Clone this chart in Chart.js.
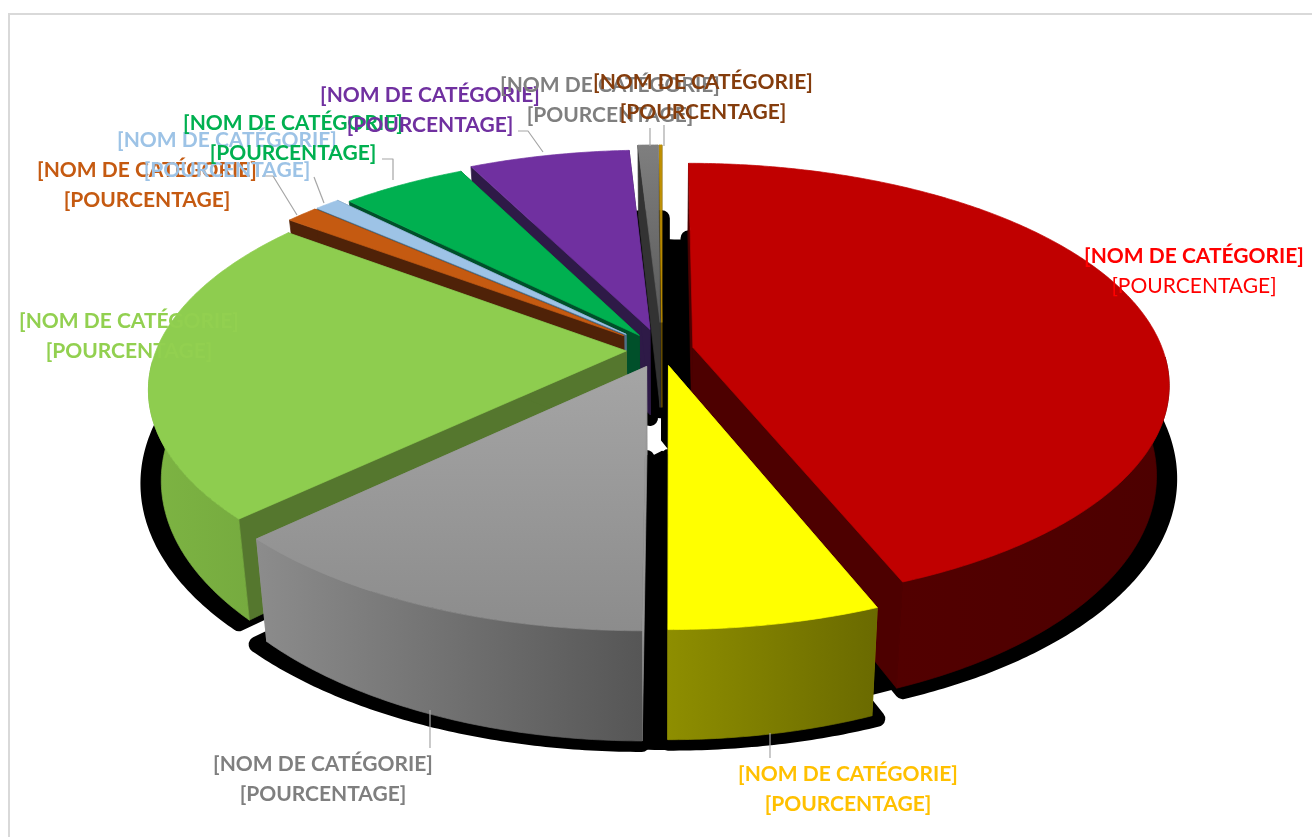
<!DOCTYPE html>
<html lang="fr"><head><meta charset="utf-8">
<style>
html,body{margin:0;padding:0;background:#fff;overflow:hidden;width:1312px;height:837px}
#frame{position:absolute;left:8px;top:13px;width:1400px;height:900px;border:2px solid #d9d9d9;box-sizing:border-box}
#c{position:absolute;left:0;top:0}
.lb{position:absolute;transform:translate(-50%,-50%);font:bold 21px Lato,sans-serif;white-space:nowrap;line-height:29.5px;text-align:center}
.lb .n{font-weight:400}
</style>
<script src="https://cdn.jsdelivr.net/npm/chart.js@4"></script>
</head><body>
<div id="frame"></div>
<canvas id="c" width="1312" height="837"></canvas>
<script>
const categories=["Rouge","Jaune","Gris","Vert clair","Orange","Bleu clair","Vert","Violet","Gris foncé","Brun"];
const shares=[43.85,6.05,12.74,22.41,1.3,1.0,5.0,6.45,0.8,0.1];
const nameLabel="[NOM DE CATÉGORIE]";
const percentLabel="[POURCENTAGE]";
const explodePx=[22,24,27,25,35,35,27.5,33,43,43];
const topColors=["#C00000","#FFFF00","#A5A5A5","#8ECD4F","#C55A11","#9DC3E6","#00B050","#7030A0","#7F7F7F","#BF8F00"];
const topColors2=["#C00000","#FFFF00","#8C8C8C","#8ECD4F","#C55A11","#9DC3E6","#00B050","#7030A0","#5A5A5A","#BF8F00"];
const rimLeft=["#520000","#8E8E00","#8C8C8C","#7DB443","#6A2F09","#5E7C98","#006A34","#432063","#4C4C4C","#664C00"];
const rimRight=["#4D0000","#6A6A00","#565656","#76AB3F","#6A2F09","#5E7C98","#006A34","#432063","#4C4C4C","#664C00"];
const cutColors=["#4D0000","#8A8A00","#979797","#55772E","#4F2208","#4D7088","#00502A","#2E1A47","#333333","#664C00"];
const labelColors=["#FF0000","#FFC000","#7F7F7F","#92D050","#C55A11","#9DC3E6","#00B050","#7030A0","#7F7F7F","#843C0C"];
const labelCenters=[[1194,269],[848,787],[323,777],[129,334],[147,183],[227,153],[293,136],[430,108],[610,98],[703,95]];
const labelOrder=[0,1,2,3,4,5,6,7,8,9];
const leaders=[[[262,176],[273,176],[297,215]],[[314,177],[324,203]],[[382,159],[393,159],[393,180]],[[518,131],[528,131],[543,152]],[[650,128],[650,146]],[[664,125],[664,146]],[[430,710],[430,748]],[[770,733],[770,758]]];
const RX=470,KY=215,PERSP=0.164,SHRINK=0.975,SHADOW=8;

function project(cx,cy,u,v,bottom,shrink){
  const s=1/(1-PERSP*v);
  let x=cx+RX*u*s,y=cy+KY*v*s;
  if(bottom){const d=72+(y-165)*0.082;x=cx+(x-cx)*shrink;y+=d;}
  return [x,y];
}
function slicePts(a,bottom,shrink,center){
  const o=a.options.offset/a.outerRadius,mid=(a.startAngle+a.endAngle)/2;
  const ou=center?center[0]:o*Math.cos(mid),ov=center?center[1]:o*Math.sin(mid);
  const n=Math.max(2,Math.ceil((a.endAngle-a.startAngle)/0.01)),rim=[];
  for(let i=0;i<=n;i++){const t=a.startAngle+(a.endAngle-a.startAngle)*i/n;
    rim.push({t,p:project(a.x,a.y,ou+Math.cos(t),ov+Math.sin(t),bottom,shrink)});}
  return {apex:project(a.x,a.y,ou,ov,bottom,shrink),rim};
}
function poly(ctx,pts){ctx.beginPath();pts.forEach((p,i)=>i?ctx.lineTo(p[0],p[1]):ctx.moveTo(p[0],p[1]));ctx.closePath();}
const pie3d={id:'pie3d',
  beforeDatasetsDraw(chart){
    const ctx=chart.ctx,arcs=chart.getDatasetMeta(0).data.map((a,i)=>({a,i,mid:(a.startAngle+a.endAngle)/2}));
    ctx.save();
    ctx.fillStyle='#000';ctx.strokeStyle='#000';ctx.lineWidth=SHADOW*2;ctx.lineJoin='round';
    ctx.translate(0,3);
    arcs.forEach(({a})=>{const b=slicePts(a,true,1);poly(ctx,[b.apex,...b.rim.map(r=>r.p)]);ctx.fill();ctx.stroke();});
    ctx.lineWidth=2;
    arcs.forEach(({a,mid})=>{
      const front=Math.sin(mid)>0.5,right=Math.cos(mid)>0.5;
      if(front||right){
        const tip=slicePts(a,true,1,[0,front?0.05:0]),b=slicePts(a,true,1,[0,front?0.09:0]);
        poly(ctx,[tip.apex,...b.rim.map(r=>r.p)]);ctx.fill();ctx.stroke();
      }
    });
    ctx.translate(0,-3);
    arcs.sort((p,q)=>Math.sin(p.mid)-Math.sin(q.mid));
    arcs.forEach(({a,i})=>{
      const t=slicePts(a,false),b=slicePts(a,true,SHRINK);
      const edge=(j)=>[t.apex,t.rim[j].p,b.rim[j].p,b.apex];
      ctx.lineWidth=0.7;
      [0,t.rim.length-1].forEach(j=>{ctx.fillStyle=ctx.strokeStyle=cutColors[i];poly(ctx,edge(j));ctx.fill();ctx.stroke();});
      const vis=t.rim.map((r,j)=>j).filter(j=>Math.sin(t.rim[j].t)>0.04);
      if(vis.length>1){
        const pts=[...vis.map(j=>t.rim[j].p),...vis.slice().reverse().map(j=>b.rim[j].p)];
        const xs=pts.map(p=>p[0]),g=ctx.createLinearGradient(Math.min(...xs),0,Math.max(...xs),0);
        g.addColorStop(0,rimLeft[i]);g.addColorStop(1,rimRight[i]);
        ctx.fillStyle=ctx.strokeStyle=g;poly(ctx,pts);ctx.fill();ctx.stroke();
      }
      const tp=[t.apex,...t.rim.map(r=>r.p)],ys=tp.map(p=>p[1]);
      const g2=ctx.createLinearGradient(0,Math.min(...ys),0,Math.max(...ys));
      g2.addColorStop(0,topColors[i]);g2.addColorStop(1,topColors2[i]);
      ctx.fillStyle=ctx.strokeStyle=g2;poly(ctx,tp);ctx.fill();ctx.stroke();
    });
    ctx.strokeStyle='#a6a6a6';ctx.lineWidth=1.2;
    leaders.forEach(l=>{ctx.beginPath();l.forEach((p,i)=>i?ctx.lineTo(p[0],p[1]):ctx.moveTo(p[0],p[1]));ctx.stroke();});
    ctx.restore();
    return false;
  }
};
new Chart(document.getElementById('c'),{
  type:'pie',
  data:{labels:categories,datasets:[{data:shares,offset:explodePx,backgroundColor:topColors,borderWidth:0}]},
  options:{responsive:false,animation:false,layout:{padding:{left:12,bottom:137}},
    plugins:{legend:{display:false},tooltip:{enabled:false}}},
  plugins:[pie3d]
});
labelOrder.forEach(i=>{
  const d=document.createElement('div');d.className='lb';d.style.left=labelCenters[i][0]+'px';d.style.top=labelCenters[i][1]+'px';d.style.color=labelColors[i];
  const a=document.createElement('div');a.textContent=nameLabel;
  const b=document.createElement('div');b.textContent=percentLabel;if(i===0)b.className='n';
  d.append(a,b);document.body.appendChild(d);
});
</script>
</body></html>
